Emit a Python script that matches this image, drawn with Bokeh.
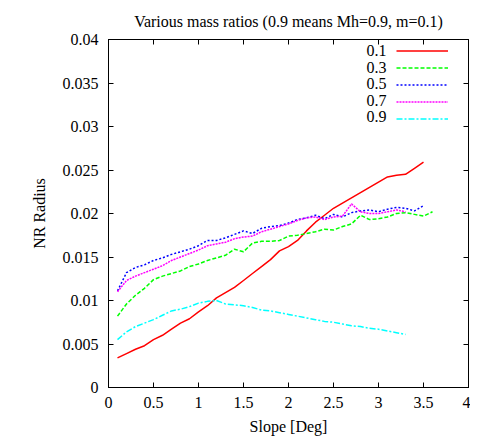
from bokeh.plotting import figure
from bokeh.models import (Range1d, FixedTicker, LinearAxis, Legend, LegendItem, Label)
from bokeh.embed import file_html
from bokeh.resources import INLINE

# ---- data ----
x_red = [0.1,0.2,0.3,0.4,0.5,0.6,0.7,0.8,0.9,1.0,1.1,1.2,1.3,1.4,1.5,1.6,1.7,1.8,1.9,2.0,
         2.1,2.2,2.3,2.4,2.5,2.6,2.7,2.8,2.9,3.0,3.1,3.2,3.3,3.4,3.5]
y_red = [0.0034,0.0039,0.0044,0.0048,0.0055,0.0060,0.0067,0.0074,0.0079,0.0087,0.0094,0.0103,
         0.0109,0.0115,0.0123,0.0131,0.0139,0.0147,0.0157,0.0162,0.0169,0.0180,0.0190,0.0198,
         0.0206,0.0212,0.0218,0.0224,0.0230,0.0236,0.0242,0.0244,0.0245,0.0252,0.0259]

x_green = [0.1,0.2,0.3,0.4,0.5,0.6,0.7,0.8,0.9,1.0,1.1,1.2,1.3,1.4,1.5,1.6,1.7,1.8,1.9,2.0,
           2.1,2.2,2.3,2.4,2.5,2.6,2.7,2.8,2.9,3.0,3.1,3.2,3.3,3.4,3.5,3.6]
y_green = [0.0082,0.0096,0.0106,0.0114,0.0124,0.0128,0.0131,0.0134,0.0139,0.0142,0.0146,0.0149,
           0.0152,0.0159,0.0156,0.0166,0.0168,0.0168,0.0169,0.0174,0.0175,0.0177,0.0179,0.0182,
           0.0181,0.0185,0.0188,0.0198,0.0193,0.0194,0.0196,0.0200,0.0201,0.0199,0.0197,0.0202]

x_blue = [0.1,0.2,0.3,0.4,0.5,0.6,0.7,0.8,0.9,1.0,1.1,1.2,1.3,1.4,1.5,1.6,1.7,1.8,1.9,2.0,
          2.1,2.2,2.3,2.4,2.5,2.6,2.7,2.8,2.9,3.0,3.1,3.2,3.3,3.4,3.5]
y_blue = [0.0111,0.0132,0.0138,0.0141,0.0146,0.0149,0.0153,0.0156,0.0159,0.0163,0.0169,0.0169,
          0.0172,0.0176,0.0180,0.0177,0.0183,0.0185,0.0186,0.0189,0.0193,0.0195,0.0198,0.0194,
          0.0199,0.0196,0.0201,0.0203,0.0204,0.0202,0.0205,0.0207,0.0206,0.0203,0.0209]

x_mag = [0.1,0.2,0.3,0.4,0.5,0.6,0.7,0.8,0.9,1.0,1.1,1.2,1.3,1.4,1.5,1.6,1.7,1.8,1.9,2.0,
         2.1,2.2,2.3,2.4,2.5,2.6,2.7,2.8,2.9,3.0,3.1,3.2,3.3]
y_mag = [0.0110,0.0123,0.0128,0.0132,0.0136,0.0140,0.0146,0.0150,0.0154,0.0158,0.0163,0.0165,
         0.0167,0.0171,0.0173,0.0174,0.0179,0.0182,0.0185,0.0188,0.0192,0.0195,0.0196,0.0193,
         0.0196,0.0197,0.0211,0.0202,0.0200,0.0200,0.0202,0.0204,0.0202]

x_cyan = [0.1,0.2,0.3,0.4,0.5,0.6,0.7,0.8,0.9,1.0,1.1,1.2,1.3,1.4,1.5,1.6,1.7,1.8,1.9,2.0,
          2.1,2.2,2.3,2.4,2.5,2.6,2.7,2.8,2.9,3.0,3.1,3.2,3.3]
y_cyan = [0.0055,0.0064,0.0070,0.0074,0.0078,0.0083,0.0088,0.0090,0.0093,0.0097,0.0099,0.0100,
          0.0096,0.0095,0.0094,0.0092,0.0089,0.0088,0.0086,0.0084,0.0082,0.0080,0.0078,0.0076,
          0.0075,0.0073,0.0071,0.0070,0.0068,0.0067,0.0065,0.0063,0.0061]

series_names = ["0.1", "0.3", "0.5", "0.7", "0.9"]
x_ticks = [0, 0.5, 1, 1.5, 2, 2.5, 3, 3.5, 4]
x_tick_labels = ["0", "0.5", "1", "1.5", "2", "2.5", "3", "3.5", "4"]
y_ticks = [0, 0.005, 0.01, 0.015, 0.02, 0.025, 0.03, 0.035, 0.04]
y_tick_labels = ["0", "0.005", "0.01", "0.015", "0.02", "0.025", "0.03", "0.035", "0.04"]

FONT = "'Liberation Serif', 'Times New Roman', serif"
FS = "16px"

p = figure(frame_width=360, frame_height=348, output_backend="svg", toolbar_location=None,
           x_range=Range1d(0, 4), y_range=Range1d(0, 0.04),
           min_border_left=108, min_border_right=2, min_border_top=39, min_border_bottom=44,
           title="Various mass ratios (0.9 means Mh=0.9, m=0.1)")
p.title.align = "center"
p.title.text_font = FONT
p.title.text_font_size = FS
p.title.text_font_style = "normal"
p.title.text_color = "black"
p.title.standoff = 19

p.grid.visible = False
p.background_fill_color = "white"
p.border_fill_color = "white"
p.outline_line_color = "black"
p.outline_line_width = 1

def style_axis(ax, ticks, labels, show_labels=True):
    ax.ticker = FixedTicker(ticks=ticks)
    ax.major_tick_in = 5
    ax.major_tick_out = 0
    ax.minor_tick_line_color = None
    ax.axis_line_color = "black"
    ax.major_tick_line_color = "black"
    ax.major_label_text_font = FONT
    ax.major_label_text_font_size = FS
    ax.major_label_text_color = "black"
    ax.axis_label_text_font = FONT
    ax.axis_label_text_font_size = FS
    ax.axis_label_text_font_style = "normal"
    ax.axis_label_text_color = "black"
    if show_labels:
        ax.major_label_overrides = {t: l for t, l in zip(ticks, labels)}
    else:
        ax.major_label_text_font_size = "0px"
        ax.major_label_text_color = None

xa = p.xaxis[0]
style_axis(xa, x_ticks, x_tick_labels)
xa.axis_label = "Slope [Deg]"
xa.major_label_standoff = 9
xa.axis_label_standoff = 7

ya = p.yaxis[0]
style_axis(ya, y_ticks, y_tick_labels)
ya.axis_label = "NR Radius"
ya.major_label_standoff = 10
ya.axis_label_standoff = 12

top = LinearAxis()
style_axis(top, x_ticks, x_tick_labels, show_labels=False)
p.add_layout(top, "above")
right = LinearAxis()
style_axis(right, y_ticks, y_tick_labels, show_labels=False)
p.add_layout(right, "right")
top.major_label_standoff = 0
right.major_label_standoff = 0

r1 = p.line(x_red, y_red, line_color="#ff0000", line_width=1.5)
r2 = p.line(x_green, y_green, line_color="#00ff00", line_width=1.5, line_dash="4 2")
r3 = p.line(x_blue, y_blue, line_color="#0000ff", line_width=1.5, line_dash="2 2")
r4 = p.line(x_mag, y_mag, line_color="#ff00ff", line_width=1.5, line_dash="2 1")
r5 = p.line(x_cyan, y_cyan, line_color="#00ffff", line_width=1.5, line_dash="6 2 2 2")
renderers = [r1, r2, r3, r4, r5]

legend = Legend(items=[LegendItem(label=" ", renderers=[r]) for r in renderers],
                location=(288, 260), orientation="vertical",
                glyph_width=52, glyph_height=17, label_height=17, label_width=0,
                label_standoff=0, spacing=0, padding=0, margin=0,
                border_line_color=None, background_fill_alpha=0,
                label_text_font_size="1px")
p.add_layout(legend, "center")

# legend texts, right aligned left of samples (data coordinates of text anchors)
row_y = [0.03874, 0.03678, 0.03494, 0.03299, 0.03115]
for name, yy in zip(series_names, row_y):
    p.add_layout(Label(x=3.09, y=yy, text=name, text_align="right", text_baseline="middle",
                       text_font=FONT, text_font_size=FS, text_color="black"))

open("out.html", "w").write(file_html(p, INLINE))
